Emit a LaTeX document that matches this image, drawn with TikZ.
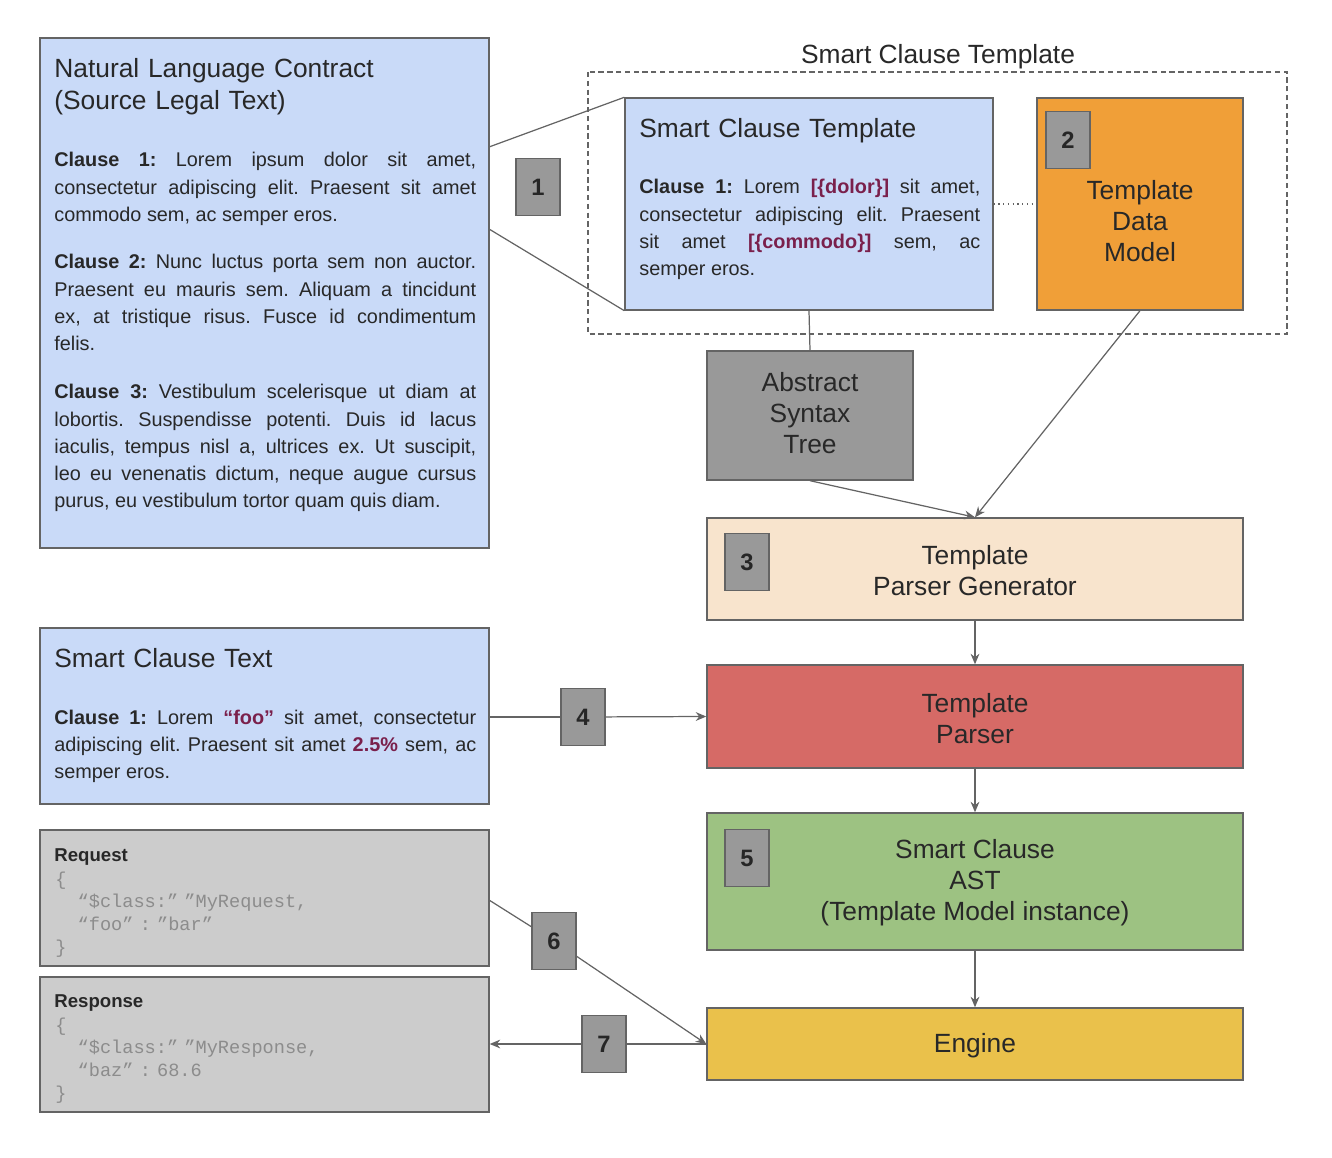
\documentclass[tikz,border=0pt]{standalone}
\usepackage{fontspec}
\setmainfont{Liberation Sans}
\newfontfamily\codefont{Liberation Mono}
\usetikzlibrary{fit,arrows.meta}
\definecolor{paleblue}{RGB}{201,218,248}
\definecolor{astgray}{RGB}{153,153,153}
\definecolor{modelorange}{RGB}{240,159,56}
\definecolor{peach}{RGB}{248,228,205}
\definecolor{parserred}{RGB}{214,106,102}
\definecolor{astgreen}{RGB}{157,194,130}
\definecolor{engineyellow}{RGB}{234,193,75}
\definecolor{jsongray}{RGB}{204,204,204}
\definecolor{edgegray}{RGB}{100,100,100}
\definecolor{inkgray}{RGB}{40,40,40}
\definecolor{codegray}{RGB}{140,140,140}
\definecolor{plum}{RGB}{122,32,76}
\newcommand\field[1]{\textcolor{plum}{\textbf{#1}}}
\frenchspacing
\tikzset{
box/.style={draw=edgegray, line width=0.8pt, inner sep=0pt},
caption/.style={inner sep=0pt, align=center, font=\fontsize{15}{17.7}\selectfont, text=inkgray},
badge/.style={draw=edgegray, fill=astgray, line width=0.8pt, minimum width=0.88cm,
  minimum height=1.14cm, inner sep=0pt, font=\fontsize{13.5}{16}\selectfont\bfseries, text=black!85},
heading/.style={anchor=base west, inner sep=0pt, text width=8.44cm, align=left,
  font=\fontsize{15}{18.2}\selectfont, text=inkgray},
para/.style={anchor=base west, inner sep=0pt, text width=8.44cm, align=justify,
  font=\fontsize{11.3}{15.4}\selectfont, text=inkgray},
code/.style={anchor=base west, inner sep=0pt, text width=8cm, align=left,
  font=\codefont\fontsize{10.6}{13}\selectfont, text=codegray},
link/.style={draw=edgegray, line width=0.7pt},
arrow/.style={link, -{Stealth[length=6pt,width=5pt]}}
}
\begin{document}
\begin{tikzpicture}[x=0.02cm, y=-0.02cm]
\useasboundingbox (0,0) rectangle (1332,1158);
\node (nl) [box, fill=paleblue, fit={(40,38) (489,548)}] {};
\node (nltitle) [heading] at (54,78) {Natural Language Contract\\(Source Legal Text)};
\node (nlone) [para] at (54,167) {\textbf{Clause 1:} Lorem ipsum dolor sit amet,\linebreak
consectetur adipiscing elit. Praesent sit amet\linebreak commodo sem, ac semper eros.};
\node (nltwo) [para] at (54,269) {\textbf{Clause 2:} Nunc luctus porta sem non auctor.\linebreak
Praesent eu mauris sem. Aliquam a tincidunt\linebreak ex, at tristique risus. Fusce id condimentum\linebreak felis.};
\node (nlthree) [para] at (54,399) {\textbf{Clause 3:} Vestibulum scelerisque ut diam at\linebreak
lobortis. Suspendisse potenti. Duis id lacus\linebreak iaculis, tempus nisl a, ultrices ex. Ut suscipit,\linebreak
leo eu venenatis dictum, neque augue cursus\linebreak purus, eu vestibulum tortor quam quis diam.};
\draw[edgegray, line width=0.8pt, dash pattern=on 3pt off 2pt] (588,72) rectangle (1287,334);
\node (grouplabel) [caption] at (938,57) {Smart Clause Template};
\node (sct) [box, fill=paleblue, fit={(625,98) (993,310)}] {};
\node (scttitle) [heading] at (639,138) {Smart Clause Template};
\node (sctone) [para, text width=6.82cm] at (639,194) {\textbf{Clause 1:} Lorem \field{[\{dolor\}]} sit amet,\linebreak
consectetur adipiscing elit. Praesent\linebreak sit amet \field{[\{commodo\}]} sem, ac\linebreak semper eros.};
\node (tdm) [box, fill=modelorange, fit={(1037,98) (1243,310)}] {};
\node (tdmtext) [caption] at (1140,221) {Template\\Data\\Model};
\node (b2) [badge] at (1068,140) {2};
\node (b1) [badge] at (538,187) {1};
\node (ast) [box, fill=astgray, fit={(707,351) (913,480)}] {};
\node (asttext) [caption] at (810,413) {Abstract\\Syntax\\Tree};
\node (tpg) [box, fill=peach, fit={(707,518) (1243,620)}] {};
\node (tpgtext) [caption] at (975,571) {Template\\Parser Generator};
\node (b3) [badge] at (747,562) {3};
\node (tp) [box, fill=parserred, fit={(707,665) (1243,768)}] {};
\node (tptext) [caption] at (975,719) {Template\\Parser};
\node (scast) [box, fill=astgreen, fit={(707,813) (1243,950)}] {};
\node (scasttext) [caption] at (975,883) {Smart Clause\\AST\\(Template Model instance)};
\node (b5) [badge] at (747,858) {5};
\node (eng) [box, fill=engineyellow, fit={(707,1008) (1243,1080)}] {};
\node (engtext) [caption] at (975,1046) {Engine};
\node (sctx) [box, fill=paleblue, fit={(40,628) (489,804)}] {};
\node (sctxtitle) [heading] at (54,667) {Smart Clause Text};
\node (sctxone) [para] at (54,724) {\textbf{Clause 1:} Lorem \field{“foo”} sit amet, consectetur\linebreak
adipiscing elit. Praesent sit amet \field{2.5\%} sem, ac\linebreak semper eros.};
\node (b4) [badge] at (583,717) {4};
\node (req) [box, fill=jsongray, fit={(40,830) (489,966)}] {};
\node (reqlabel) [para, font=\fontsize{10.6}{13}\selectfont\bfseries] at (54,861) {Request};
\node (reqbody) [code] at (55,885) {\{\\\hspace*{1.2em}“\$class:” ”MyRequest,\\\hspace*{1.2em}“foo” : ”bar”\\\}};
\node (resp) [box, fill=jsongray, fit={(40,977) (489,1112)}] {};
\node (resplabel) [para, font=\fontsize{10.6}{13}\selectfont\bfseries] at (54,1007) {Response};
\node (respbody) [code] at (55,1031) {\{\\\hspace*{1.2em}“\$class:” ”MyResponse,\\\hspace*{1.2em}“baz” : 68.6\\\}};
\node (b6) [badge] at (554,941) {6};
\node (b7) [badge] at (604,1044) {7};
\coordinate (nlup) at (489,147);
\coordinate (nldown) at (489,229);
\coordinate (reqout) at (489,900);
\draw[link] (nlup) -- (sct.north west);
\draw[link] (nldown) -- (sct.south west);
\draw[link, dotted] (sct.east) -- (tdm.west);
\draw[link] (sct.south) -- (ast.north);
\draw[arrow] (ast.south) -- (tpg.north);
\draw[arrow] (tdm.south) -- (tpg.north);
\draw[arrow] (tpg) -- (tp);
\draw[arrow] (tp) -- (scast);
\draw[arrow] (scast) -- (eng);
\draw[link] (sctx.east |- b4) -- (b4);
\draw[arrow] (b4) -- (tp.west);
\draw[link] (reqout) -- (b6);
\draw[arrow] (b6) -- (eng.west);
\draw[link] (eng.west) -- (b7);
\draw[arrow] (b7) -- (resp.east |- b7);
\end{tikzpicture}
\end{document}
